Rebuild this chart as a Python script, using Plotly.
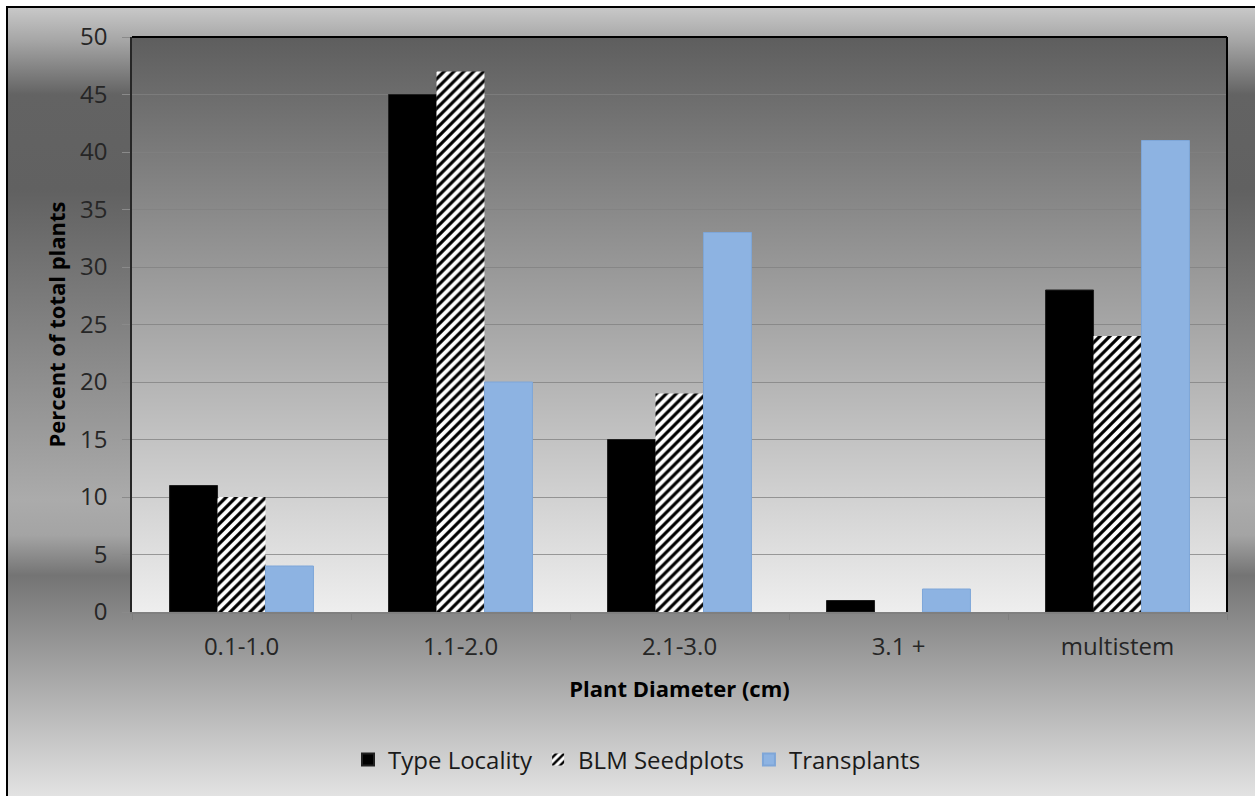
import base64
import plotly.graph_objects as go

# Plant size classes and percent of plants in each class
categories = ["0.1-1.0", "1.1-2.0", "2.1-3.0", "3.1 +", "multistem"]
type_locality = [11, 45, 15, 1, 28]
blm_seedplots = [10, 47, 19, 0, 24]
transplants = [4, 20, 33, 2, 41]

W, H = 1255, 796
L, R, T, B = 132, 28, 37, 184
PW, PH = W - L - R, H - T - B

FONT = "Open Sans"

# Background: framed outer gradient plus a darker-to-light plot-area gradient
outer_stops = [
    (0.000, "#c8c8c8"), (0.041, "#a6a6a6"), (0.110, "#636363"),
    (0.231, "#616161"), (0.624, "#ababab"), (0.669, "#a4a4a4"),
    (0.720, "#747474"), (0.802, "#949494"), (1.000, "#e2e2e2"),
]
stops_svg = "".join(
    f'<stop offset="{o}" stop-color="{c}"/>' for o, c in outer_stops
)
svg = f"""<svg xmlns="http://www.w3.org/2000/svg" width="{W}" height="{H}" viewBox="0 0 {W} {H}" preserveAspectRatio="none">
<defs>
<linearGradient id="o" x1="0" y1="0" x2="0" y2="1">{stops_svg}</linearGradient>
<linearGradient id="p" x1="0" y1="0" x2="0" y2="1">
<stop offset="0" stop-color="#5e5e5e"/><stop offset="1" stop-color="#eeeeee"/>
</linearGradient>
</defs>
<rect x="0" y="0" width="{W}" height="{H}" fill="#ffffff"/>
<rect x="8" y="8" width="{W-8}" height="{H-8}" fill="url(#o)"/>
<line x1="6" y1="7" x2="{W}" y2="7" stroke="#000" stroke-width="2"/>
<line x1="7" y1="6" x2="7" y2="{H}" stroke="#000" stroke-width="2"/>
<rect x="{L}" y="{T}" width="{PW}" height="{PH}" fill="url(#p)"/>
</svg>"""
bg_uri = "data:image/svg+xml;base64," + base64.b64encode(svg.encode()).decode()

fig = go.Figure()
fig.add_trace(go.Bar(
    name="Type Locality", x=categories, y=type_locality,
    marker=dict(color="#000000", line=dict(color="#202020", width=1)),
))
fig.add_trace(go.Bar(
    name="BLM Seedplots", x=categories, y=blm_seedplots,
    marker=dict(color="#ffffff", line=dict(width=0),
                pattern=dict(shape="/", fgcolor="#000000", bgcolor="#ffffff",
                             size=7, solidity=0.45, fillmode="replace")),
))
fig.add_trace(go.Bar(
    name="Transplants", x=categories, y=transplants,
    marker=dict(color="#8db3e2", line=dict(color="#7ea6d8", width=1)),
))

fig.update_layout(
    width=W, height=H,
    margin=dict(l=L, r=R, t=T, b=B, pad=0),
    paper_bgcolor="#ffffff",
    plot_bgcolor="rgba(0,0,0,0)",
    barmode="group", bargap=0.343, bargroupgap=0,
    font=dict(family=FONT, size=24, color="#262626"),
    images=[dict(
        source=bg_uri, xref="paper", yref="paper",
        x=-L / PW, y=1 + T / PH, sizex=W / PW, sizey=H / PH,
        xanchor="left", yanchor="top", sizing="stretch", layer="below",
    )],
    xaxis=dict(
        showgrid=False, tickson="boundaries", ticks="outside", ticklen=6,
        tickcolor="#7f7f7f", tickwidth=1,
        showline=True, linecolor="#7f7f7f", linewidth=2,
        tickfont=dict(size=24, color="#262626"), ticklabelstandoff=12,
        title=dict(text="<b>Plant Diameter (cm)</b>", standoff=21,
                   font=dict(size=22, color="#000000")),
    ),
    yaxis=dict(
        range=[0, 50], dtick=5, tick0=0,
        showgrid=True, gridcolor="rgba(129,129,129,0.77)", gridwidth=1,
        zeroline=False, ticks="outside", ticklen=8,
        tickcolor="#8a8a8a", tickwidth=1,
        showline=True, linecolor="#262626", linewidth=1.5,
        tickfont=dict(size=24, color="#262626"), ticklabelstandoff=10,
        title=dict(text="<b>Percent of total plants</b>", standoff=8,
                   font=dict(size=22, color="#000000")),
    ),
    legend=dict(
        orientation="h", x=(637 - L) / PW, xanchor="center",
        y=-(760 - (T + PH)) / PH, yanchor="middle",
        bgcolor="rgba(0,0,0,0)", font=dict(size=24, color="#1a1a1a"),
        itemsizing="constant", traceorder="normal",
    ),
    shapes=[
        dict(type="line", xref="paper", yref="paper", x0=0, x1=1, y0=1, y1=1,
             line=dict(color="#000000", width=2), layer="above"),
        dict(type="line", xref="paper", yref="paper", x0=1, x1=1, y0=0, y1=1,
             line=dict(color="#000000", width=2), layer="above"),
    ],
)

fig.write_html("out.html")
